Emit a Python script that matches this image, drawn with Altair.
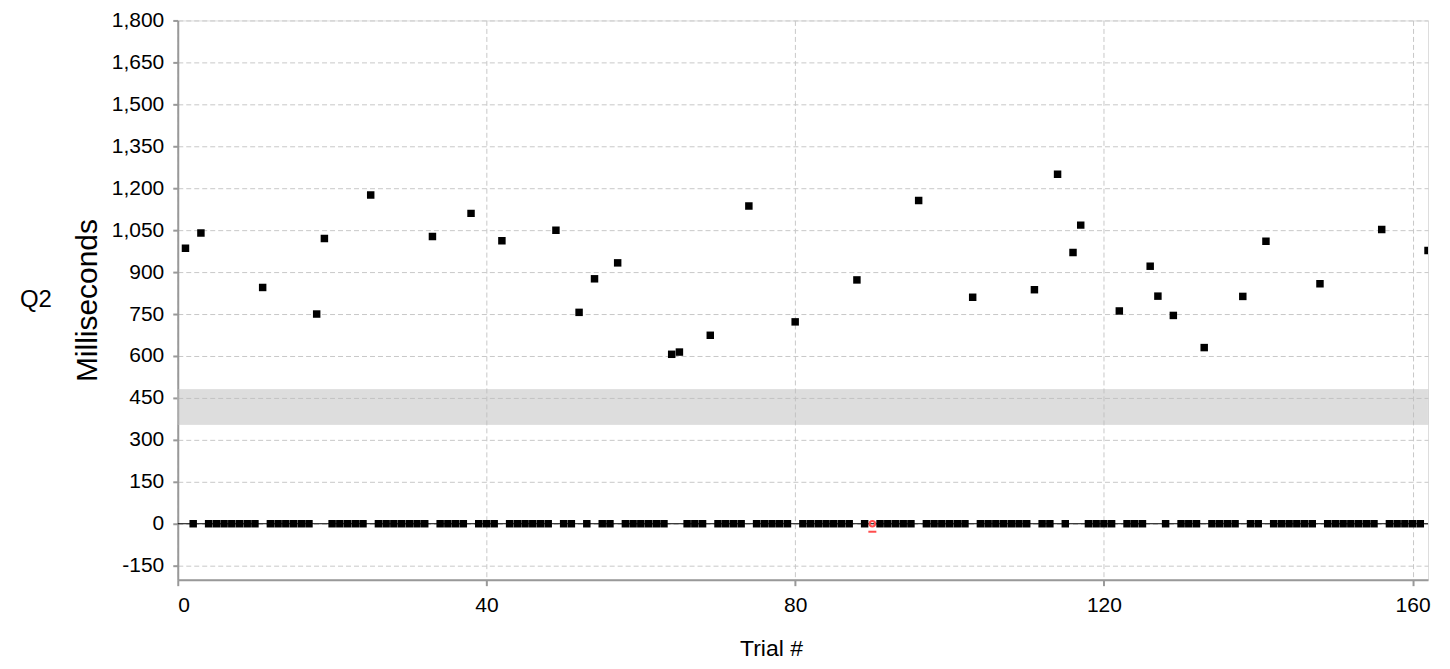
import altair as alt
import pandas as pd

# ---- data ----
high_trials = [1, 3, 11, 18, 19, 25, 33, 38, 42, 49, 52, 54, 57, 64, 65, 69, 74, 80, 88,
               96, 103, 111, 114, 116, 117, 122, 126, 127, 129, 133, 138, 141, 148, 156, 162]
high_values = [985, 1040, 845, 750, 1020, 1176, 1027, 1110, 1012, 1050, 756, 876, 933, 606,
               614, 674, 1136, 722, 872, 1156, 810, 837, 1250, 970, 1068, 761, 921, 814, 745,
               630, 813, 1010, 858, 1052, 977]
zero_trials = [2, 4, 5, 6, 7, 8, 9, 10, 12, 13, 14, 15, 16, 17, 20, 21, 22, 23, 24,
               26, 27, 28, 29, 30, 31, 32, 34, 35, 36, 37, 39, 40, 41, 43, 44, 45, 46, 47, 48,
               50, 51, 53, 55, 56, 58, 59, 60, 61, 62, 63, 66, 67, 68, 70, 71, 72, 73,
               75, 76, 77, 78, 79, 81, 82, 83, 84, 85, 86, 87, 89, 91, 92, 93, 94, 95,
               97, 98, 99, 100, 101, 102, 104, 105, 106, 107, 108, 109, 110, 112, 113, 115,
               118, 119, 120, 121, 123, 124, 125, 128, 130, 131, 132, 134, 135, 136, 137,
               139, 140, 142, 143, 144, 145, 146, 147, 149, 150, 151, 152, 153, 154, 155,
               157, 158, 159, 160, 161]
zero_values = [0] * len(zero_trials)
marker_trial = [90]
marker_value = [0]
band_low = [355]
band_high = [480]
x_ticks = [0, 40, 80, 120, 160]
y_ticks = [-150, 0, 150, 300, 450, 600, 750, 900, 1050, 1200, 1350, 1500, 1650, 1800]
x_domain = [0, 162]
y_domain = [-200, 1800]

FONT = "Liberation Sans, Arial"

high_df = pd.DataFrame({"trial": high_trials, "ms": high_values})
zero_df = pd.DataFrame({"trial": zero_trials, "ms": zero_values})
marker_df = pd.DataFrame({"trial": marker_trial, "ms": marker_value})
band_df = pd.DataFrame({"lo": band_low, "hi": band_high})
zline_df = pd.DataFrame({"y": [0]})
label_df = pd.DataFrame({"t": ["Q2"]})

xscale = alt.Scale(domain=x_domain, nice=False, zero=False)
yscale = alt.Scale(domain=y_domain, nice=False, zero=False)

xaxis = alt.Axis(values=x_ticks, title="Trial #", grid=True, gridDash=[5, 3],
                 gridColor="#c8c8c8", labelFont=FONT, labelFontSize=21,
                 titleFont=FONT, titleFontSize=23, titleFontWeight="normal",
                 titleColor="#000", labelColor="#000", domainColor="#999", domainWidth=2,
                 tickColor="#999", tickWidth=2, tickSize=6, labelPadding=9, titlePadding=22,
                 titleX=594, titleAlign="center")
yaxis = alt.Axis(values=y_ticks, format=",.0f", title="Milliseconds", grid=True,
                 labelExpr="replace(datum.label, '\u2212', '-')",
                 gridDash=[5, 3], gridColor="#c8c8c8", labelFont=FONT, labelFontSize=21,
                 titleFont=FONT, titleFontSize=30, titleFontWeight="normal",
                 titleColor="#000", labelColor="#000", domainColor="#999", domainWidth=2,
                 tickColor="#999", tickWidth=2, tickSize=5, labelPadding=9, titlePadding=9)

band = alt.Chart(band_df).mark_rect(fill="#bdbdbd", opacity=0.5, stroke="#c4c4c4",
                                    strokeWidth=1).encode(
    y=alt.Y("lo:Q", scale=yscale, axis=yaxis),
    y2="hi:Q",
    x=alt.value(0),
    x2=alt.value(1252),
)

zline = alt.Chart(zline_df).mark_rule(color="#000", strokeWidth=1).encode(
    y=alt.Y("y:Q", scale=yscale),
    x=alt.value(0),
    x2=alt.value(1252),
)

zeros = alt.Chart(zero_df).mark_square(size=56, color="#000", opacity=1).encode(
    x=alt.X("trial:Q", scale=xscale, axis=xaxis),
    y=alt.Y("ms:Q", scale=yscale),
)

highs = alt.Chart(high_df).mark_square(size=56, color="#000", opacity=1, clip=True).encode(
    x=alt.X("trial:Q", scale=xscale),
    y=alt.Y("ms:Q", scale=yscale),
)

marker = alt.Chart(marker_df).mark_point(shape="circle", size=30, filled=False,
                                         color="#ff4d4d", strokeWidth=2, opacity=1).encode(
    x=alt.X("trial:Q", scale=xscale),
    y=alt.Y("ms:Q", scale=yscale),
)

underline = alt.Chart(marker_df).mark_rule(color="#ff4d4d", strokeWidth=2,
                                           xOffset=-4, x2Offset=4, yOffset=8).encode(
    x=alt.X("trial:Q", scale=xscale),
    x2="trial:Q",
    y=alt.Y("ms:Q", scale=yscale),
)

qlabel = alt.Chart(label_df).mark_text(font=FONT, fontSize=24, align="left",
                                       baseline="middle", color="#000").encode(
    text="t:N",
    x=alt.value(-158),
    y=alt.value(280),
)

chart = alt.layer(band, zline, zeros, highs, marker, underline, qlabel).properties(
    width=1252, height=560,
    autosize=alt.AutoSizeParams(type="none"),
    padding={"left": 170, "top": 12, "right": 14, "bottom": 90},
).configure_view(stroke="#999", strokeWidth=1.5).configure(background="white")

chart.save("out.html", embed_options={"renderer": "svg", "actions": False})
